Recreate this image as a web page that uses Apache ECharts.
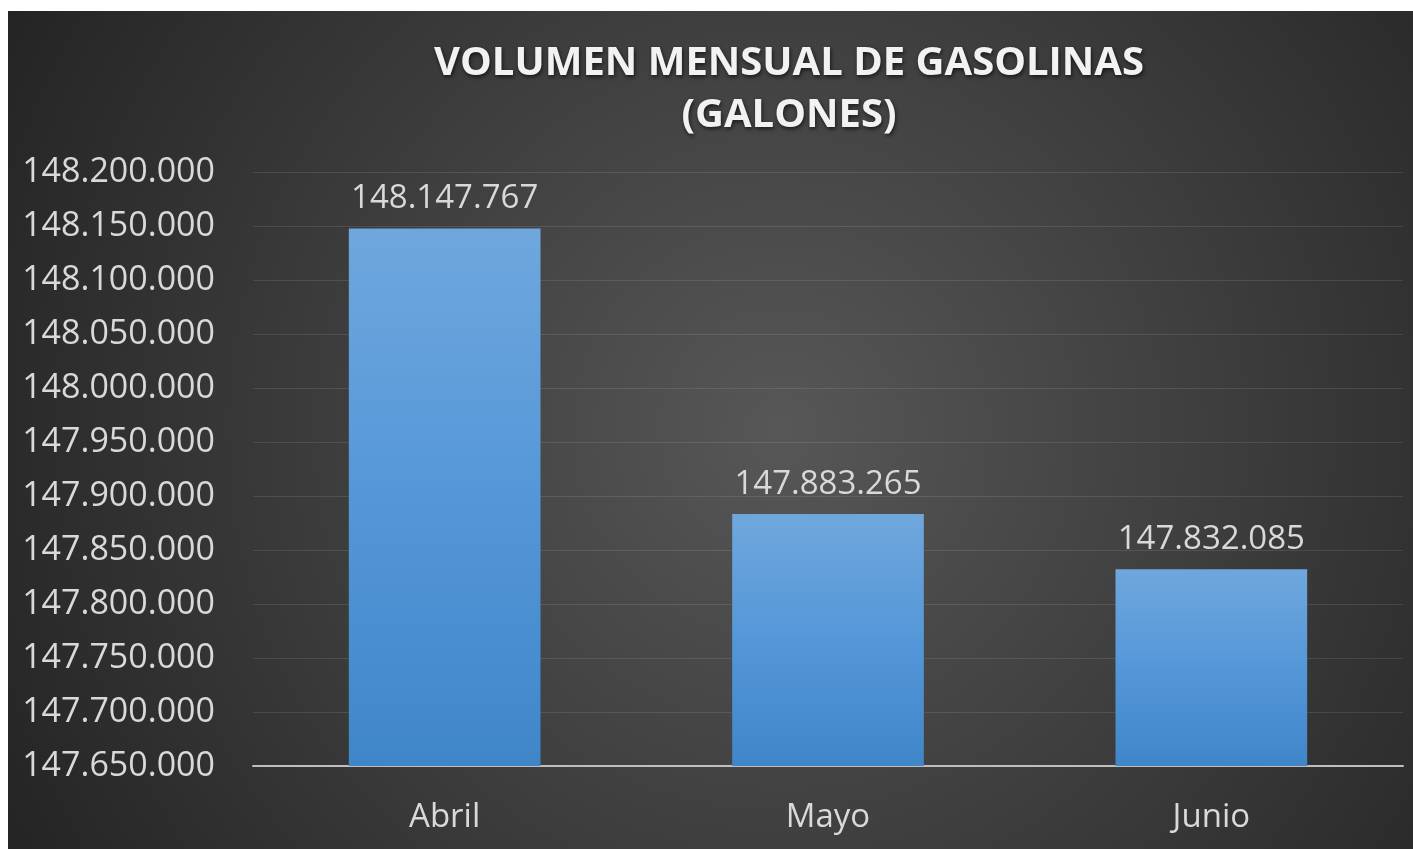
<!DOCTYPE html>
<html>
<head>
<meta charset="utf-8">
<script src="https://cdn.jsdelivr.net/npm/echarts@6/dist/echarts.min.js"></script>
<style>
  html, body { margin: 0; padding: 0; background: #ffffff; }
  #chart { position: absolute; left: 8px; top: 11px; width: 1405px; height: 838px; }
</style>
</head>
<body>
<div id="chart"></div>
<script>
const months = ['Abril', 'Mayo', 'Junio']
const volumes = [148147767, 147883265, 147832085]
const axisMin = 147650000
const axisMax = 148200000
const axisStep = 50000

// miles con punto, como en el original
const fmt = (v) => String(Math.round(v)).replace(/\B(?=(\d{3})+(?!\d))/g, '.')

const chart = echarts.init(document.getElementById('chart'))

const labelFont = '"Open Sans", sans-serif'

const option = {
  backgroundColor: new echarts.graphic.RadialGradient(0.55, 0.5, 1.05, [
    { offset: 0, color: '#575757' },
    { offset: 1, color: '#242424' },
  ]),
  title: {
    text: 'VOLUMEN MENSUAL DE GASOLINAS\n(GALONES)',
    left: 781,
    top: 27,
    padding: 0,
    textAlign: 'center',
    textStyle: {
      color: '#f2f2f2',
      fontFamily: labelFont,
      fontWeight: 'bold',
      fontSize: 40,
      lineHeight: 52,
      textShadowColor: 'rgba(0,0,0,0.65)',
      textShadowBlur: 4,
      textShadowOffsetX: 1,
      textShadowOffsetY: 2,
    },
  },
  grid: {
    left: 245,
    right: 10,
    top: 161,
    bottom: 83,
  },
  xAxis: {
    type: 'category',
    data: months,
    axisLine: { lineStyle: { color: '#bfbfbf', width: 2 } },
    axisTick: { show: false },
    axisLabel: {
      color: '#d9d9d9',
      fontFamily: labelFont,
      fontSize: 33,
      margin: 35,
    },
  },
  yAxis: {
    type: 'value',
    min: axisMin,
    max: axisMax,
    interval: axisStep,
    axisLine: { show: false },
    axisTick: { show: false },
    axisLabel: {
      color: '#d9d9d9',
      fontFamily: labelFont,
      fontSize: 34,
      margin: 38,
      formatter: fmt,
    },
    splitLine: { lineStyle: { color: 'rgba(255,255,255,0.1)', width: 1 } },
  },
  series: [
    {
      type: 'bar',
      data: volumes,
      barWidth: '50%',
      itemStyle: {
        color: new echarts.graphic.LinearGradient(0, 0, 0, 1, [
          { offset: 0, color: '#6fa7dd' },
          { offset: 0.5, color: '#5497d8' },
          { offset: 1, color: '#3f86c9' },
        ]),
      },
      label: {
        show: true,
        position: 'top',
        distance: 13,
        color: '#d9d9d9',
        fontFamily: labelFont,
        fontSize: 33,
        formatter: (p) => fmt(p.value),
      },
    },
  ],
}

chart.setOption(option)
window.addEventListener('resize', () => chart.resize())
</script>
</body>
</html>
